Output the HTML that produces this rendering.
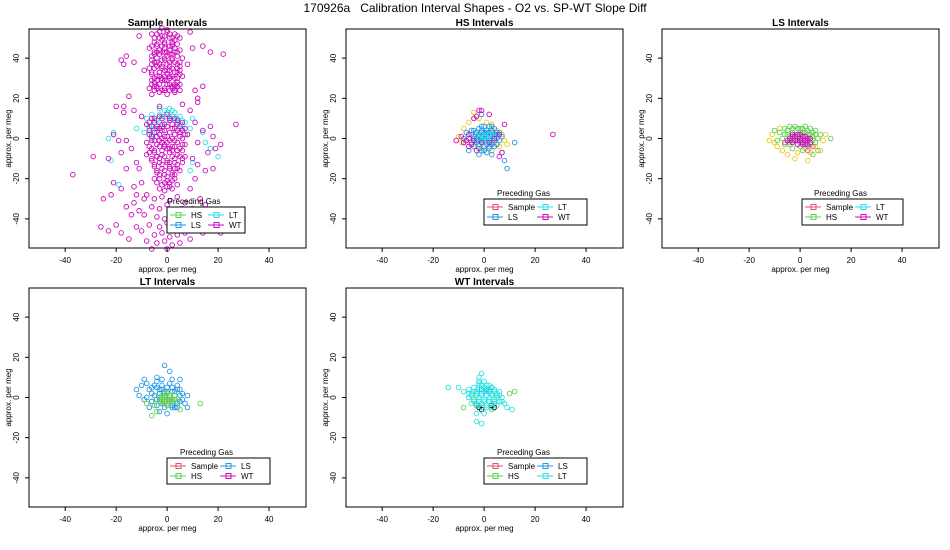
<!DOCTYPE html>
<html><head><meta charset="utf-8">
<style>
body{margin:0;background:#fff;}
svg{display:block;font-family:"Liberation Sans",Arial,sans-serif;}
</style></head>
<body>
<svg id="chart" width="950" height="550" viewBox="0 0 950 550">
<text x="475" y="12" text-anchor="middle" font-size="12" style="white-space:pre">170926a   Calibration Interval Shapes - O2 vs. SP-WT Slope Diff</text>
</svg>
<script>
const xTicks = [-40,-20,0,20,40];
const yTicks = [-40,-20,0,20,40];
const colors = {Sample:'#DF536B',HS:'#61D04F',LS:'#2297E6',LT:'#28E2E5',WT:'#CD0BBC',Y:'#F5C710',K:'#000000'};

// panel 1: Sample intervals
const p1_WT = [-6,52,-3,53,0,54,3,52,5,50,-5,48,-2,49,1,50,4,47,-7,45,-4,46,-1,45,2,46,5,44,-6,41,-3,42,0,41,3,43,6,40,-5,38,-2,39,1,38,4,37,-7,35,-4,36,-1,34,2,35,5,34,-6,32,-3,31,0,32,3,30,6,31,-5,28,-2,29,1,27,4,28,-7,25,-4,26,-1,24,2,25,5,24,-3,23,0,22,3,23,-6,22,-1,51,2,48,-4,43,-1,39,2,40,-3,33,0,29,3,26,-6,29,-5,43,4,51,-2,55,1,44,-4,52,5,38,-1,47,2,42,-2,36,1,31,-4,29,4,33,
-5,50,-2,51,1,52,3,49,-4,47,-1,48,2,47,-6,46,-3,44,0,43,3,45,-5,42,-2,43,1,42,4,41,-4,40,-1,40,2,39,-6,39,-3,37,0,37,3,38,5,36,-5,35,-2,35,1,36,4,35,-3,33,0,34,3,33,-6,33,-4,31,-1,31,2,31,5,32,-5,30,-2,30,1,30,4,30,-6,27,-3,27,0,27,3,27,-4,25,-1,25,2,26,-2,24,1,24,4,26,-5,24,0,53,-3,50,2,50,-1,43,-4,38,1,34,-1,29,3,24,-5,26,5,27,-6,37,4,43,-2,46,1,46,
-18,39,-17,37,-16,41,-13,38,-20,16,-17,16,-17,13,-15,21,17,43,22,42,14,26,11,24,12,18,-9,34,8,37,10,45,-3,16,6,17,-11,51,14,46,9,53,
-6,10,-3,11,0,12,3,10,6,8,-8,7,-5,8,-2,7,1,9,4,7,7,5,-7,4,-4,5,-1,4,2,5,5,3,8,2,-6,1,-3,2,0,1,3,2,6,0,-8,-2,-5,-1,-2,-2,1,-1,4,-2,7,-3,-6,-5,-3,-4,0,-5,3,-4,6,-6,-8,-8,-5,-7,-2,-8,1,-7,4,-8,7,-9,-6,-11,-3,-10,0,-11,3,-10,6,-12,-5,-14,-2,-13,1,-14,4,-13,-4,-17,-1,-16,2,-17,5,-16,-3,-20,0,-19,3,-20,-2,-23,1,-22,-5,-20,4,-23,-1,-26,2,-25,-1,-3,2,-6,-4,-9,1,-12,-2,0,3,-15,
-5,10,-2,10,1,10,4,9,-7,8,-4,6,-1,7,2,7,5,6,-6,6,-3,5,0,6,3,5,6,4,-5,3,-2,4,1,3,4,4,7,2,-7,2,-4,1,-1,1,2,0,5,1,-6,-1,-3,-1,0,-2,3,-1,6,-3,-7,-4,-4,-3,-1,-4,2,-4,5,-5,-5,-6,-2,-6,1,-5,4,-6,-7,-7,-4,-9,-1,-9,2,-9,5,-9,-6,-10,-3,-12,0,-12,3,-12,6,-10,-5,-13,-2,-15,1,-15,4,-15,-4,-16,-1,-18,2,-18,-3,-18,0,-21,3,-18,-1,-22,2,-21,-4,-22,1,-24,-3,-25,0,-24,
-8,-28,-5,-30,-2,-29,1,-31,4,-29,7,-32,-6,-34,-3,-35,0,-33,3,-36,6,-35,-9,-38,-4,-39,-1,-40,2,-38,5,-41,8,-39,-7,-43,-3,-44,0,-42,3,-45,6,-44,-10,-46,-5,-48,-2,-47,1,-49,4,-48,7,-47,-8,-51,-4,-52,-1,-51,2,-53,5,-52,9,-50,-6,-55,0,-55,
-13,-32,-16,-34,-22,-28,-25,-30,-20,-43,-23,-46,-26,-44,-18,-47,-15,-50,-12,-44,-14,-38,-18,-25,-21,-22,-13,-24,-16,-15,-12,-12,-14,-5,-18,-7,-23,-10,-29,-9,-37,-18,-21,2,-19,-1,-11,-15,-10,-22,-12,-28,11,-20,13,-30,10,-35,12,-42,14,-47,17,-45,21,-47,23,-44,9,-25,15,-33,18,-15,16,-7,19,-5,21,-3,18,1,12,-2,14,4,17,6,27,7,11,8,10,-10,12,-13,15,-16,9,14,12,20,-13,14,-10,11,-16,-1,-9,-30,-11,-36];
const p1_LT = [-9,3,-7,6,-5,9,-3,12,-1,14,1,15,3,13,5,11,7,8,9,5,-6,0,-4,3,-2,6,0,9,2,11,4,8,6,5,8,2,-8,10,-3,15,-21,3,-23,0,-22,-11,-19,-23,-12,5,10,10,14,3,15,-2,17,-5,20,-9,10,-12,9,-16,-10,11,-6,12,-4,9,-2,11,0,13,2,14,4,10,6,9,-7,5,-5,5,-1,11,3,9,-3,8,1,11,5,7,-6,2];

// panel 2: HS intervals
const p2_Y = [-10,1,-8,5,-6,8,-4,13,-2,10,1,8,3,7,5,4,7,2,8,-1,6,-4,3,-6,-1,-5,-4,-3,-7,-1,-9,-2,2,1,0,3,-3,2,4,-2,9,-3];
const p2_LS = [-4,4,-2,5,0,6,2,6,4,5,6,3,-5,2,-3,3,-1,4,1,4,3,3,5,2,7,1,-4,0,-2,1,0,2,2,1,4,0,6,-1,-5,-2,-3,-1,-1,0,1,-1,3,-2,5,-3,-4,-4,-2,-3,0,-4,2,-5,4,-4,-1,-6,1,-7,3,-8,7,-7,8,-11,9,-15,-8,-2,-7,3,-2,-8,-6,-6,12,-2,-1,12,-8,0,0,0,2,-2,-2,2,
-3,3,-1,3,1,3,3,4,5,3,-4,1,-2,2,0,3,2,3,4,2,-3,0,-1,1,1,1,3,1,5,0,-4,-1,-2,-1,0,-1,2,-1,4,-1,-3,-2,-1,-2,1,-3,3,-3,-2,-5,0,-6,2,-4,-5,4,-1,6,3,6];
const p2_WT = [-11,-1,-9,1,-8,-2,-6,0,-5,-3,-6,2,-4,-1,-3,-6,-1,-2,2,-2,4,0,6,2,-2,14,-1,14,-4,10,-3,11,2,12,8,7,7,-7,6,-9,27,2,-6,-4,-7,-1];
const p2_LT = [-2,0,0,1,2,2,1,-1,-1,2,3,0,0,-2];

// panel 3: LS intervals
const p3_HS = [-8,3,-6,5,-4,6,-2,6,0,5,2,6,4,5,6,4,8,2,-7,0,-5,2,-3,3,-1,2,1,3,3,2,5,1,7,0,-6,-3,-4,-2,-2,-1,0,-2,2,-1,4,-3,6,-2,-3,-5,1,-6,-9,-1,12,0,5,-8,7,-6,-10,4,
-5,4,-3,5,-1,5,1,5,3,4,5,3,-4,1,-2,2,0,3,2,3,4,2,-6,2,6,2,-3,-1,-1,0,1,0,3,-1,5,-1,-4,-3,0,-4,3,-4];
const p3_Y = [-11,2,-10,-2,-9,-4,-7,-6,-5,-8,-2,-10,-1,-7,2,-5,4,-7,6,-4,9,-1,10,2,-12,-1,-8,5,3,-11,8,-6];
const p3_WT = [-4,0,-3,-2,-2,1,-1,-1,0,0,1,-2,2,1,3,-1,4,0,-3,2,0,2,2,-3,-5,-1,3,-3,-3,1,-1,2,1,1,3,0,-2,-1,0,-1,2,-1,4,-2,-4,-1,1,-3,-1,-3];
const p3_Sample = [-6,-2,5,-4,3,-6];

// panel 4: LT intervals
const p4_LS = [-12,4,-10,6,-9,9,-7,4,-6,2,-5,6,-4,8,-3,4,-2,6,-1,3,0,5,1,7,2,5,3,3,4,6,5,4,6,2,-8,0,-6,-2,-4,-1,-2,-3,0,-1,2,-2,4,-3,6,-1,-1,16,1,13,-4,10,5,9,7,-3,8,-5,-7,-5,-3,-7,0,-8,2,-4,-11,1,8,1,-9,-1,3,-5,-1,-3,
-6,5,-4,5,-2,4,0,3,2,3,4,4,-5,1,-3,2,-1,1,1,1,3,1,5,1,-6,-2,-3,-1,1,-1,3,-1,5,-2,-4,-4,-1,-5,2,-5,4,-5,-2,9,2,9,-8,7];
const p4_HS = [-3,0,-2,1,-1,-1,0,2,1,0,2,-1,3,1,-2,-2,0,-3,4,-2,-5,-4,-4,-7,-8,-3,13,-3,-6,-9,5,-6,-1,2,1,-2,-2,-1,-1,0,0,-1,1,1,2,-2,-3,-2,3,-1,0,-4,-1,-3];

// panel 5: WT intervals
const p5_LT = [-6,4,-4,5,-2,6,0,5,2,6,4,4,6,3,-5,2,-3,3,-1,2,1,3,3,2,5,1,7,0,-6,0,-4,-1,-2,0,0,-1,2,0,4,-1,6,-2,-5,-3,-3,-4,-1,-3,1,-4,3,-3,5,-4,-1,12,-2,10,-14,5,-10,5,-8,3,8,-3,9,-5,11,-6,-3,-12,-1,-13,0,-8,-3,-8,2,-2,-2,7,7,-2,
-4,3,-2,4,0,3,2,4,4,3,-5,1,-3,1,-1,1,1,1,3,1,5,2,-4,-1,-2,-2,0,-2,2,-2,4,-2,-3,-3,-1,-5,1,-5,3,-5,-2,8,0,8,-1,6,1,6,3,5,-6,2,6,1];
const p5_HS = [-6,0,-4,-2,-3,2,4,-3,5,0,10,2,12,3,-8,-5,3,-6,-2,-4];
const p5_LS = [1,4,2,3,3,5,-1,4];
const p5_K = [-3,-4,-2,-5,3,-4,4,-5,-1,-6];

const panels = [
 {title:'Sample Intervals', ox:29, oy:29, series:[['LT',p1_LT],['WT',p1_WT]], legend:[['HS','LT'],['LS','WT']], lx:167, ly:207, lw:78},
 {title:'HS Intervals', ox:346, oy:29, series:[['Y',p2_Y],['LS',p2_LS],['LT',p2_LT],['WT',p2_WT]], legend:[['Sample','LT'],['LS','WT']], lx:484, ly:199, lw:103},
 {title:'LS Intervals', ox:662, oy:29, series:[['Y',p3_Y],['HS',p3_HS],['Sample',p3_Sample],['WT',p3_WT]], legend:[['Sample','LT'],['HS','WT']], lx:802, ly:199, lw:101},
 {title:'LT Intervals', ox:29, oy:288, series:[['LS',p4_LS],['HS',p4_HS]], legend:[['Sample','LS'],['HS','WT']], lx:167, ly:458, lw:103},
 {title:'WT Intervals', ox:346, oy:288, series:[['HS',p5_HS],['LS',p5_LS],['K',p5_K],['LT',p5_LT]], legend:[['Sample','LS'],['HS','LT']], lx:484, ly:458, lw:103}
];
const W=277, H=219, XMIN=-54.2, XMAX=54.5, YMIN=-54.5, YMAX=54.5;
const svg=document.getElementById('chart');
const NS='http://www.w3.org/2000/svg';
function mk(tag,attrs,parent){const e=document.createElementNS(NS,tag);for(const k in attrs)e.setAttribute(k,attrs[k]);(parent||svg).appendChild(e);return e;}

panels.forEach((p,pi)=>{
  const sx=v=>p.ox+(v-XMIN)/(XMAX-XMIN)*W;
  const sy=v=>p.oy+(YMAX-v)/(YMAX-YMIN)*H;
  const g=mk('g',{});
  
  
  const t=mk('text',{x:p.ox+W/2,y:p.oy-3,'text-anchor':'middle','font-size':'10','font-weight':'bold'},g);
  t.textContent=p.title;
  
  
  const pts=mk('g',{fill:'none','stroke-width':'0.9'},g);
  
  
  p.series.forEach(([name,arr])=>{
    for(let i=0;i<arr.length;i+=2){
      const c=mk('circle',{cx:sx(arr[i]).toFixed(1),cy:sy(arr[i+1]).toFixed(1),r:2.3,stroke:colors[name]},pts);
      
      
    }
  });
  const box=mk('rect',{x:p.ox,y:p.oy,width:W,height:H,fill:'none',stroke:'#000','stroke-width':'1'},g);
  
  
  xTicks.forEach(v=>{
    mk('line',{x1:sx(v),x2:sx(v),y1:p.oy+H,y2:p.oy+H+4,stroke:'#000'},g);
    const l=mk('text',{x:sx(v),y:p.oy+H+15,'text-anchor':'middle','font-size':'8'},g);
    l.textContent=v;
    
    
  });
  yTicks.forEach(v=>{
    mk('line',{x1:p.ox-4,x2:p.ox,y1:sy(v),y2:sy(v),stroke:'#000'},g);
    const l=mk('text',{x:p.ox-10,y:sy(v),'text-anchor':'middle','font-size':'8',transform:`rotate(-90 ${p.ox-10} ${sy(v)})`},g);
    l.textContent=v;
    
    
  });
  const xl=mk('text',{x:p.ox+W/2,y:p.oy+H+24,'text-anchor':'middle','font-size':'8'},g);
  xl.textContent='approx. per meg';
  
  
  const yx=p.ox-18, yy=p.oy+H/2;
  const yl=mk('text',{x:yx,y:yy,'text-anchor':'middle','font-size':'8',transform:`rotate(-90 ${yx} ${yy})`},g);
  yl.textContent='approx. per meg';
  
  
  const lg=mk('g',{},g);
  
  
  const lh=p.legend.length*10+6;
  mk('rect',{x:p.lx,y:p.ly,width:p.lw,height:lh,fill:'#fff',stroke:'#000','stroke-width':'1'},lg);
  const lt=mk('text',{x:p.lx+p.lw/2-12,y:p.ly-3,'text-anchor':'middle','font-size':'8'},lg);
  lt.textContent='Preceding Gas';
  
  
  const colW=p.lw>90?50:38;
  p.legend.forEach((row,ri)=>{
    row.forEach((name,ci)=>{
      const x0=p.lx+3+ci*colW, y0=p.ly+8+ri*10;
      const e=mk('g',{},lg);
      
      
      mk('line',{x1:x0,x2:x0+16,y1:y0,y2:y0,stroke:colors[name]},e);
      mk('rect',{x:x0+6,y:y0-2.5,width:5,height:5,fill:'none',stroke:colors[name]},e);
      const tx=mk('text',{x:x0+21,y:y0+3,'font-size':'8'},e);
      tx.textContent=name;
    });
  });
});
</script>
</body></html>
